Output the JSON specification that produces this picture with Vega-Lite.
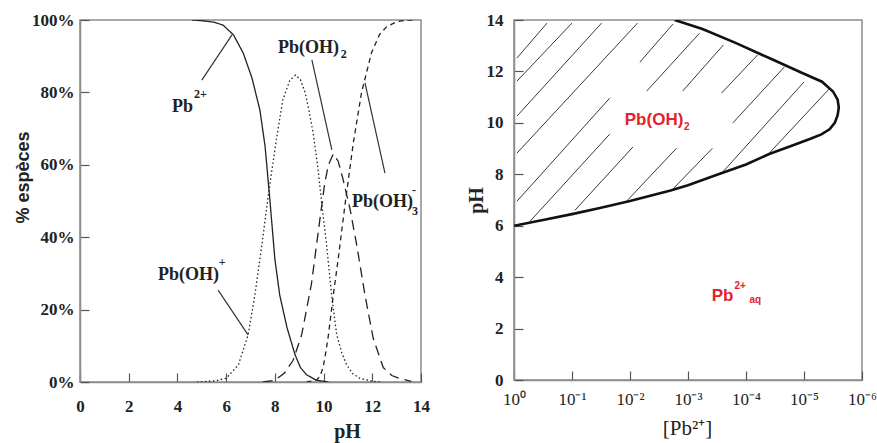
{
  "$schema": "https://vega.github.io/schema/vega-lite/v6.json",
  "background": "white",
  "padding": {"left": 13, "top": 10, "right": 0, "bottom": 5},
  "config": {
    "view": {"stroke": "#8c8c8c", "strokeWidth": 1.5},
    "concat": {"spacing": 34},
    "axis": {
      "grid": false,
      "labelFlush": false,
      "domainColor": "#8c8c8c",
      "domainWidth": 1.5,
      "tickColor": "#555555",
      "tickWidth": 1.2,
      "tickSize": -9,
      "labelFont": "Liberation Serif",
      "labelFontSize": 17,
      "labelFontWeight": "bold",
      "labelColor": "#222222",
      "titleFont": "Liberation Serif",
      "titleFontSize": 20,
      "titleFontWeight": "bold",
      "titleColor": "#222222"
    }
  },
  "datasets": {
    "species": [
      {"species": "Pb2+", "pH": 4.6, "pct": 100},
      {"species": "Pb2+", "pH": 5.0, "pct": 99.8},
      {"species": "Pb2+", "pH": 5.5, "pct": 99.4},
      {"species": "Pb2+", "pH": 5.87, "pct": 98.6},
      {"species": "Pb2+", "pH": 6.3, "pct": 95.9},
      {"species": "Pb2+", "pH": 6.7, "pct": 90.9},
      {"species": "Pb2+", "pH": 7.06, "pct": 84},
      {"species": "Pb2+", "pH": 7.39, "pct": 75},
      {"species": "Pb2+", "pH": 7.6, "pct": 65},
      {"species": "Pb2+", "pH": 7.7, "pct": 57.5},
      {"species": "Pb2+", "pH": 7.8, "pct": 50},
      {"species": "Pb2+", "pH": 7.9, "pct": 42},
      {"species": "Pb2+", "pH": 8.0, "pct": 34},
      {"species": "Pb2+", "pH": 8.2, "pct": 24},
      {"species": "Pb2+", "pH": 8.5, "pct": 15},
      {"species": "Pb2+", "pH": 8.83, "pct": 7.5},
      {"species": "Pb2+", "pH": 9.05, "pct": 4},
      {"species": "Pb2+", "pH": 9.3, "pct": 2},
      {"species": "Pb2+", "pH": 9.7, "pct": 0.5},
      {"species": "Pb2+", "pH": 10.2, "pct": 0},
      {"species": "Pb(OH)+", "pH": 4.8, "pct": 0},
      {"species": "Pb(OH)+", "pH": 5.5, "pct": 0.3},
      {"species": "Pb(OH)+", "pH": 6.0, "pct": 1},
      {"species": "Pb(OH)+", "pH": 6.5, "pct": 4.7},
      {"species": "Pb(OH)+", "pH": 6.9, "pct": 13},
      {"species": "Pb(OH)+", "pH": 7.18, "pct": 24},
      {"species": "Pb(OH)+", "pH": 7.47, "pct": 38},
      {"species": "Pb(OH)+", "pH": 7.68, "pct": 49},
      {"species": "Pb(OH)+", "pH": 7.88, "pct": 58.6},
      {"species": "Pb(OH)+", "pH": 8.08, "pct": 67.7},
      {"species": "Pb(OH)+", "pH": 8.33, "pct": 78},
      {"species": "Pb(OH)+", "pH": 8.62, "pct": 83.4},
      {"species": "Pb(OH)+", "pH": 8.85, "pct": 84.8},
      {"species": "Pb(OH)+", "pH": 9.05, "pct": 83.5},
      {"species": "Pb(OH)+", "pH": 9.24, "pct": 80},
      {"species": "Pb(OH)+", "pH": 9.4, "pct": 75},
      {"species": "Pb(OH)+", "pH": 9.58, "pct": 68.5},
      {"species": "Pb(OH)+", "pH": 9.76, "pct": 59.5},
      {"species": "Pb(OH)+", "pH": 9.93, "pct": 49},
      {"species": "Pb(OH)+", "pH": 10.13, "pct": 37.5},
      {"species": "Pb(OH)+", "pH": 10.33, "pct": 24},
      {"species": "Pb(OH)+", "pH": 10.54, "pct": 13},
      {"species": "Pb(OH)+", "pH": 10.75, "pct": 8},
      {"species": "Pb(OH)+", "pH": 10.95, "pct": 4.7},
      {"species": "Pb(OH)+", "pH": 11.2, "pct": 2.3},
      {"species": "Pb(OH)+", "pH": 11.49, "pct": 1},
      {"species": "Pb(OH)+", "pH": 12.0, "pct": 0.2},
      {"species": "Pb(OH)+", "pH": 12.4, "pct": 0},
      {"species": "Pb(OH)2", "pH": 7.5, "pct": 0},
      {"species": "Pb(OH)2", "pH": 8.0, "pct": 0.5},
      {"species": "Pb(OH)2", "pH": 8.4, "pct": 2.5},
      {"species": "Pb(OH)2", "pH": 8.75, "pct": 6},
      {"species": "Pb(OH)2", "pH": 9.1, "pct": 13},
      {"species": "Pb(OH)2", "pH": 9.5, "pct": 27},
      {"species": "Pb(OH)2", "pH": 9.85, "pct": 45},
      {"species": "Pb(OH)2", "pH": 10.05, "pct": 55},
      {"species": "Pb(OH)2", "pH": 10.2, "pct": 60},
      {"species": "Pb(OH)2", "pH": 10.4, "pct": 63},
      {"species": "Pb(OH)2", "pH": 10.6, "pct": 61},
      {"species": "Pb(OH)2", "pH": 10.8, "pct": 56},
      {"species": "Pb(OH)2", "pH": 11.08, "pct": 48},
      {"species": "Pb(OH)2", "pH": 11.37, "pct": 37.5},
      {"species": "Pb(OH)2", "pH": 11.7, "pct": 24},
      {"species": "Pb(OH)2", "pH": 12.04, "pct": 12},
      {"species": "Pb(OH)2", "pH": 12.45, "pct": 4},
      {"species": "Pb(OH)2", "pH": 12.8, "pct": 1.8},
      {"species": "Pb(OH)2", "pH": 13.1, "pct": 1},
      {"species": "Pb(OH)2", "pH": 13.6, "pct": 0.2},
      {"species": "Pb(OH)3-", "pH": 9.3, "pct": 0},
      {"species": "Pb(OH)3-", "pH": 9.7, "pct": 0.5},
      {"species": "Pb(OH)3-", "pH": 9.85, "pct": 1.5},
      {"species": "Pb(OH)3-", "pH": 9.98, "pct": 4},
      {"species": "Pb(OH)3-", "pH": 10.1, "pct": 8.5},
      {"species": "Pb(OH)3-", "pH": 10.2, "pct": 13},
      {"species": "Pb(OH)3-", "pH": 10.4, "pct": 24},
      {"species": "Pb(OH)3-", "pH": 10.6, "pct": 34},
      {"species": "Pb(OH)3-", "pH": 10.88, "pct": 49},
      {"species": "Pb(OH)3-", "pH": 10.96, "pct": 53},
      {"species": "Pb(OH)3-", "pH": 11.22, "pct": 66},
      {"species": "Pb(OH)3-", "pH": 11.56, "pct": 80},
      {"species": "Pb(OH)3-", "pH": 11.97, "pct": 91},
      {"species": "Pb(OH)3-", "pH": 12.3, "pct": 96},
      {"species": "Pb(OH)3-", "pH": 12.6, "pct": 98.2},
      {"species": "Pb(OH)3-", "pH": 13.0, "pct": 99.5},
      {"species": "Pb(OH)3-", "pH": 13.41, "pct": 100},
      {"species": "Pb(OH)3-", "pH": 13.8, "pct": 100}
    ],
    "leaders": [
      {"x1": 5.0, "y1": 83.4, "x2": 6.24, "y2": 95.9},
      {"x1": 9.52, "y1": 89, "x2": 10.34, "y2": 64.1},
      {"x1": 11.7, "y1": 82.6, "x2": 12.52, "y2": 57.7},
      {"x1": 5.67, "y1": 25.4, "x2": 6.9, "y2": 13}
    ],
    "leftLabels": [
      {"text": "Pb", "pH": 3.78, "pct": 74.6},
      {"text": "Pb(OH)", "pH": 8.13, "pct": 90.9},
      {"text": "Pb(OH)", "pH": 11.17, "pct": 48.3},
      {"text": "Pb(OH)", "pH": 3.2, "pct": 28.2}
    ],
    "leftScripts": [
      {"text": "2+", "pH": 4.68, "pct": 78.5},
      {"text": "2", "pH": 10.71, "pct": 89.5},
      {"text": "3", "pH": 13.63, "pct": 46.1},
      {"text": "-", "pH": 13.63, "pct": 52},
      {"text": "+", "pH": 5.7, "pct": 32}
    ],
    "hatch": [
      {"x1": -0.05, "y1": 12.52, "x2": -0.57, "y2": 13.88},
      {"x1": -0.05, "y1": 11.62, "x2": -1.0, "y2": 13.88},
      {"x1": -0.05, "y1": 10.26, "x2": -1.51, "y2": 13.88},
      {"x1": -0.05, "y1": 8.82, "x2": -2.13, "y2": 13.88},
      {"x1": -0.05, "y1": 6.95, "x2": -1.65, "y2": 10.96},
      {"x1": -2.17, "y1": 12.36, "x2": -2.74, "y2": 13.84},
      {"x1": -0.28, "y1": 6.18, "x2": -1.65, "y2": 9.56},
      {"x1": -2.29, "y1": 11.24, "x2": -3.2, "y2": 13.49},
      {"x1": -1.05, "y1": 6.6, "x2": -2.05, "y2": 9.06},
      {"x1": -2.91, "y1": 11.24, "x2": -3.61, "y2": 13.03},
      {"x1": -1.94, "y1": 6.95, "x2": -2.8, "y2": 9.01},
      {"x1": -3.58, "y1": 11.16, "x2": -4.2, "y2": 12.64},
      {"x1": -2.72, "y1": 7.38, "x2": -3.42, "y2": 9.01},
      {"x1": -3.77, "y1": 9.99, "x2": -4.66, "y2": 12.17},
      {"x1": -3.58, "y1": 8.04, "x2": -5.0, "y2": 11.59},
      {"x1": -4.4, "y1": 8.82, "x2": -5.43, "y2": 11.31}
    ],
    "boundary": [
      {"i": 1, "logPb": 0, "pH": 6.0},
      {"i": 2, "logPb": -0.5, "pH": 6.22},
      {"i": 3, "logPb": -1.0, "pH": 6.45},
      {"i": 4, "logPb": -1.5, "pH": 6.7},
      {"i": 5, "logPb": -2.0, "pH": 6.96},
      {"i": 6, "logPb": -2.7, "pH": 7.37},
      {"i": 7, "logPb": -3.0, "pH": 7.57},
      {"i": 8, "logPb": -3.5, "pH": 7.98},
      {"i": 9, "logPb": -4.0, "pH": 8.38},
      {"i": 10, "logPb": -4.4, "pH": 8.79},
      {"i": 11, "logPb": -4.8, "pH": 9.12},
      {"i": 12, "logPb": -5.1, "pH": 9.37},
      {"i": 13, "logPb": -5.3, "pH": 9.55},
      {"i": 14, "logPb": -5.44, "pH": 9.75},
      {"i": 15, "logPb": -5.53, "pH": 10.0},
      {"i": 16, "logPb": -5.58, "pH": 10.3},
      {"i": 17, "logPb": -5.6, "pH": 10.6},
      {"i": 18, "logPb": -5.58, "pH": 10.9},
      {"i": 19, "logPb": -5.5, "pH": 11.22},
      {"i": 20, "logPb": -5.31, "pH": 11.6},
      {"i": 21, "logPb": -4.97, "pH": 11.94},
      {"i": 22, "logPb": -4.4, "pH": 12.52},
      {"i": 23, "logPb": -3.83, "pH": 13.1},
      {"i": 24, "logPb": -3.25, "pH": 13.65},
      {"i": 25, "logPb": -2.77, "pH": 14.0}
    ],
    "rightLabels": [
      {"text": "Pb(OH)", "logPb": -1.91, "pH": 9.91},
      {"text": "Pb", "logPb": -3.41, "pH": 3.09}
    ],
    "rightScripts": [
      {"text": "2", "logPb": -2.93, "pH": 9.71},
      {"text": "2+", "logPb": -3.8, "pH": 3.52},
      {"text": "aq", "logPb": -4.06, "pH": 2.98}
    ]
  },
  "hconcat": [
    {
      "width": 341,
      "height": 362,
      "layer": [
        {
          "data": {"name": "species"},
          "mark": {"type": "line", "stroke": "#222222", "strokeWidth": 1.3, "clip": true},
          "encoding": {
            "x": {
              "field": "pH", "type": "quantitative",
              "scale": {"domain": [0, 14], "nice": false},
              "axis": {"values": [0, 2, 4, 6, 8, 10, 12, 14], "title": "pH", "labelPadding": 25, "titleX": 267, "titleY": 55, "titleBaseline": "alphabetic", "titleAnchor": "middle"}
            },
            "y": {
              "field": "pct", "type": "quantitative",
              "scale": {"domain": [0, 100], "nice": false},
              "axis": {"values": [0, 20, 40, 60, 80, 100], "labelExpr": "datum.value + '%'", "labelPadding": 15, "title": "% espèces", "titleFont": "Liberation Sans", "titleFontWeight": "bold", "titleFontSize": 18, "titleX": -52, "titleY": 157, "titleBaseline": "alphabetic"}
            },
            "strokeDash": {
              "field": "species", "type": "nominal",
              "scale": {"domain": ["Pb2+", "Pb(OH)+", "Pb(OH)2", "Pb(OH)3-"], "range": [[1, 0], [1.5, 2.5], [10, 6], [5, 4]]},
              "legend": null
            }
          }
        },
        {
          "data": {"name": "leaders"},
          "mark": {"type": "rule", "stroke": "#333333", "strokeWidth": 1.2},
          "encoding": {
            "x": {"field": "x1", "type": "quantitative"},
            "y": {"field": "y1", "type": "quantitative"},
            "x2": {"field": "x2"},
            "y2": {"field": "y2"}
          }
        },
        {
          "data": {"name": "leftLabels"},
          "mark": {"type": "text", "font": "Liberation Serif", "fontWeight": "bold", "fontSize": 18, "align": "left", "baseline": "alphabetic", "color": "#222222"},
          "encoding": {
            "x": {"field": "pH", "type": "quantitative"},
            "y": {"field": "pct", "type": "quantitative"},
            "text": {"field": "text"}
          }
        },
        {
          "data": {"name": "leftScripts"},
          "mark": {"type": "text", "font": "Liberation Serif", "fontWeight": "bold", "fontSize": 12, "align": "left", "baseline": "alphabetic", "color": "#222222"},
          "encoding": {
            "x": {"field": "pH", "type": "quantitative"},
            "y": {"field": "pct", "type": "quantitative"},
            "text": {"field": "text"}
          }
        }
      ]
    },
    {
      "width": 348,
      "height": 360,
      "layer": [
        {
          "data": {"name": "hatch"},
          "mark": {"type": "rule", "stroke": "#3a3a3a", "strokeWidth": 1},
          "encoding": {
            "x": {
              "field": "x1", "type": "quantitative",
              "scale": {"domain": [-6, 0], "reverse": true, "nice": false},
              "axis": {"values": [0, -1, -2, -3, -4, -5, -6], "labelExpr": "'10' + (datum.value == 0 ? '⁰' : '⁻' + ['⁰','¹','²','³','⁴','⁵','⁶'][-datum.value])", "labelPadding": 20, "labelFontWeight": "normal", "labelFontSize": 17, "title": "[Pb²⁺]", "titleFontWeight": "normal", "titleFontSize": 21, "titleX": 173, "titleY": 54, "titleBaseline": "alphabetic"}
            },
            "y": {
              "field": "y1", "type": "quantitative",
              "scale": {"domain": [0, 14], "nice": false},
              "axis": {"values": [0, 2, 4, 6, 8, 10, 12, 14], "labelPadding": 20, "title": "pH", "titleX": -32, "titleBaseline": "alphabetic"}
            },
            "x2": {"field": "x2"},
            "y2": {"field": "y2"}
          }
        },
        {
          "data": {"name": "boundary"},
          "mark": {"type": "line", "stroke": "#111111", "strokeWidth": 2.6, "clip": true},
          "encoding": {
            "x": {"field": "logPb", "type": "quantitative"},
            "y": {"field": "pH", "type": "quantitative"},
            "order": {"field": "i", "type": "quantitative"}
          }
        },
        {
          "data": {"name": "rightLabels"},
          "mark": {"type": "text", "font": "Liberation Sans", "fontWeight": "bold", "fontSize": 17, "align": "left", "baseline": "alphabetic", "color": "#e2232b"},
          "encoding": {
            "x": {"field": "logPb", "type": "quantitative"},
            "y": {"field": "pH", "type": "quantitative"},
            "text": {"field": "text"}
          }
        },
        {
          "data": {"name": "rightScripts"},
          "mark": {"type": "text", "font": "Liberation Sans", "fontWeight": "bold", "fontSize": 10, "align": "left", "baseline": "alphabetic", "color": "#e2232b"},
          "encoding": {
            "x": {"field": "logPb", "type": "quantitative"},
            "y": {"field": "pH", "type": "quantitative"},
            "text": {"field": "text"}
          }
        }
      ]
    }
  ]
}
